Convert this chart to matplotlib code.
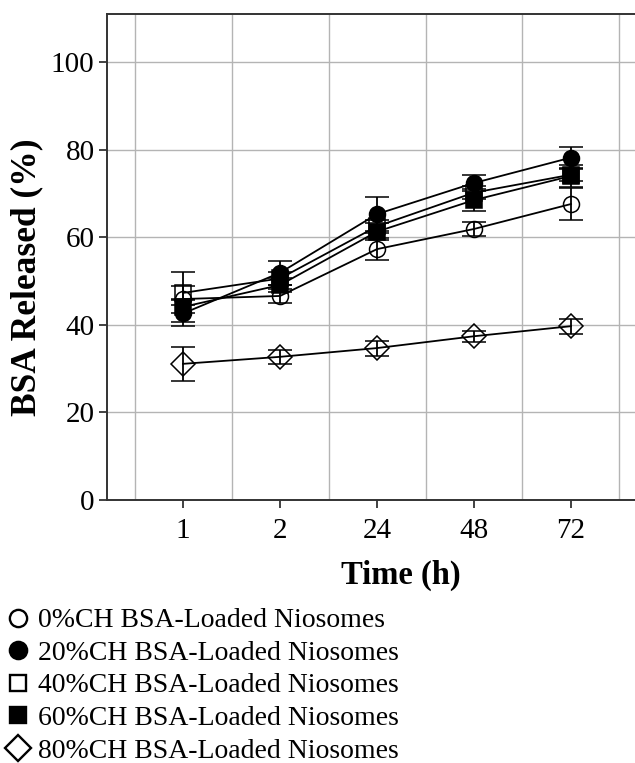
import numpy as np
import matplotlib.pyplot as plt
from matplotlib.lines import Line2D

plt.rcParams['font.family'] = ['Liberation Serif', 'DejaVu Serif']

time_labels = ['1', '2', '24', '48', '72']

ch0 = [45.9, 46.6, 57.3, 61.9, 67.6]
err0 = [6.2, 1.7, 2.5, 1.5, 3.7]
ch20 = [42.6, 51.9, 65.3, 72.4, 78.2]
err20 = [2.0, 2.7, 3.9, 1.8, 2.5]
ch40 = [47.3, 50.6, 62.5, 70.2, 74.3]
err40 = [1.5, 1.5, 1.5, 1.5, 1.5]
ch60 = [44.1, 49.1, 61.3, 68.5, 74.0]
err60 = [1.5, 1.5, 2.0, 2.5, 2.5]
ch80 = [31.1, 32.7, 34.7, 37.4, 39.7]
err80 = [3.9, 1.6, 1.7, 1.3, 1.7]

labels = ['0%CH BSA-Loaded Niosomes', '20%CH BSA-Loaded Niosomes',
          '40%CH BSA-Loaded Niosomes', '60%CH BSA-Loaded Niosomes',
          '80%CH BSA-Loaded Niosomes']

fig = plt.figure(figsize=(6.35, 7.63), dpi=100)
ax = fig.add_axes([107/635, 263/763, 528/635, 486/763])

x = np.arange(1, len(time_labels) + 1)
series = [(ch0, err0, 'o', 'none', 11.5),
          (ch20, err20, 'o', 'black', 11.5),
          (ch40, err40, 's', 'none', 11),
          (ch60, err60, 's', 'black', 11),
          (ch80, err80, 'D', 'none', 12)]

for vals, errs, m, fc, ms in series:
    ax.errorbar(x, vals, yerr=errs, color='black', lw=1.3, elinewidth=1.3,
                capsize=8.5, capthick=1.3, marker=m, markersize=ms,
                markerfacecolor=fc, markeredgecolor='black', markeredgewidth=1.1,
                zorder=3)

ax.set_xlim(0.216, 5.66)
ax.set_ylim(0, 111)
ax.set_xticks(x)
ax.set_xticklabels(time_labels)
ax.set_xticks(np.arange(0.5, 6, 1), minor=True)
ax.set_yticks([0, 20, 40, 60, 80, 100])
ax.tick_params(axis='x', which='minor', length=0)
ax.tick_params(which='major', direction='out', length=6, width=1.3,
               color='#333333', labelsize=21)
ax.tick_params(axis='x', which='major', pad=7)
ax.tick_params(axis='y', which='major', pad=3)
ax.grid(True, which='minor', axis='x', color='#b4b4b4', lw=1)
ax.grid(True, which='major', axis='y', color='#b4b4b4', lw=1)
ax.set_axisbelow(True)
ax.spines['right'].set_visible(False)
for s in ['left', 'top', 'bottom']:
    ax.spines[s].set_color('#333333')
    ax.spines[s].set_linewidth(1.4)

ax.set_xlabel('Time (h)', fontsize=23.5, fontweight='bold')
ax.set_ylabel('BSA Released (%)', fontsize=25.5, fontweight='bold')
ax.xaxis.label.set_va('center')
ax.yaxis.label.set_va('center')
ax.xaxis.set_label_coords((401 - 107) / 528, -(575 - 500) / 486)
ax.yaxis.set_label_coords((27 - 107) / 528, (500 - 277) / 486)

handles = [Line2D([], [], ls='none', marker=m, markersize=ms * 1.08,
                  markerfacecolor=('white' if fc == 'none' else fc),
                  markeredgecolor='black', markeredgewidth=1.7)
           for _, _, m, fc, ms in series]
fig.legend(handles, labels, loc='upper left', bbox_to_anchor=(7/635, 1 - 608/763),
           frameon=False, fontsize=20, handlelength=0.8, handletextpad=0.32,
           labelspacing=0.255, borderaxespad=0, borderpad=0)

fig.savefig('out.png', dpi=100)
